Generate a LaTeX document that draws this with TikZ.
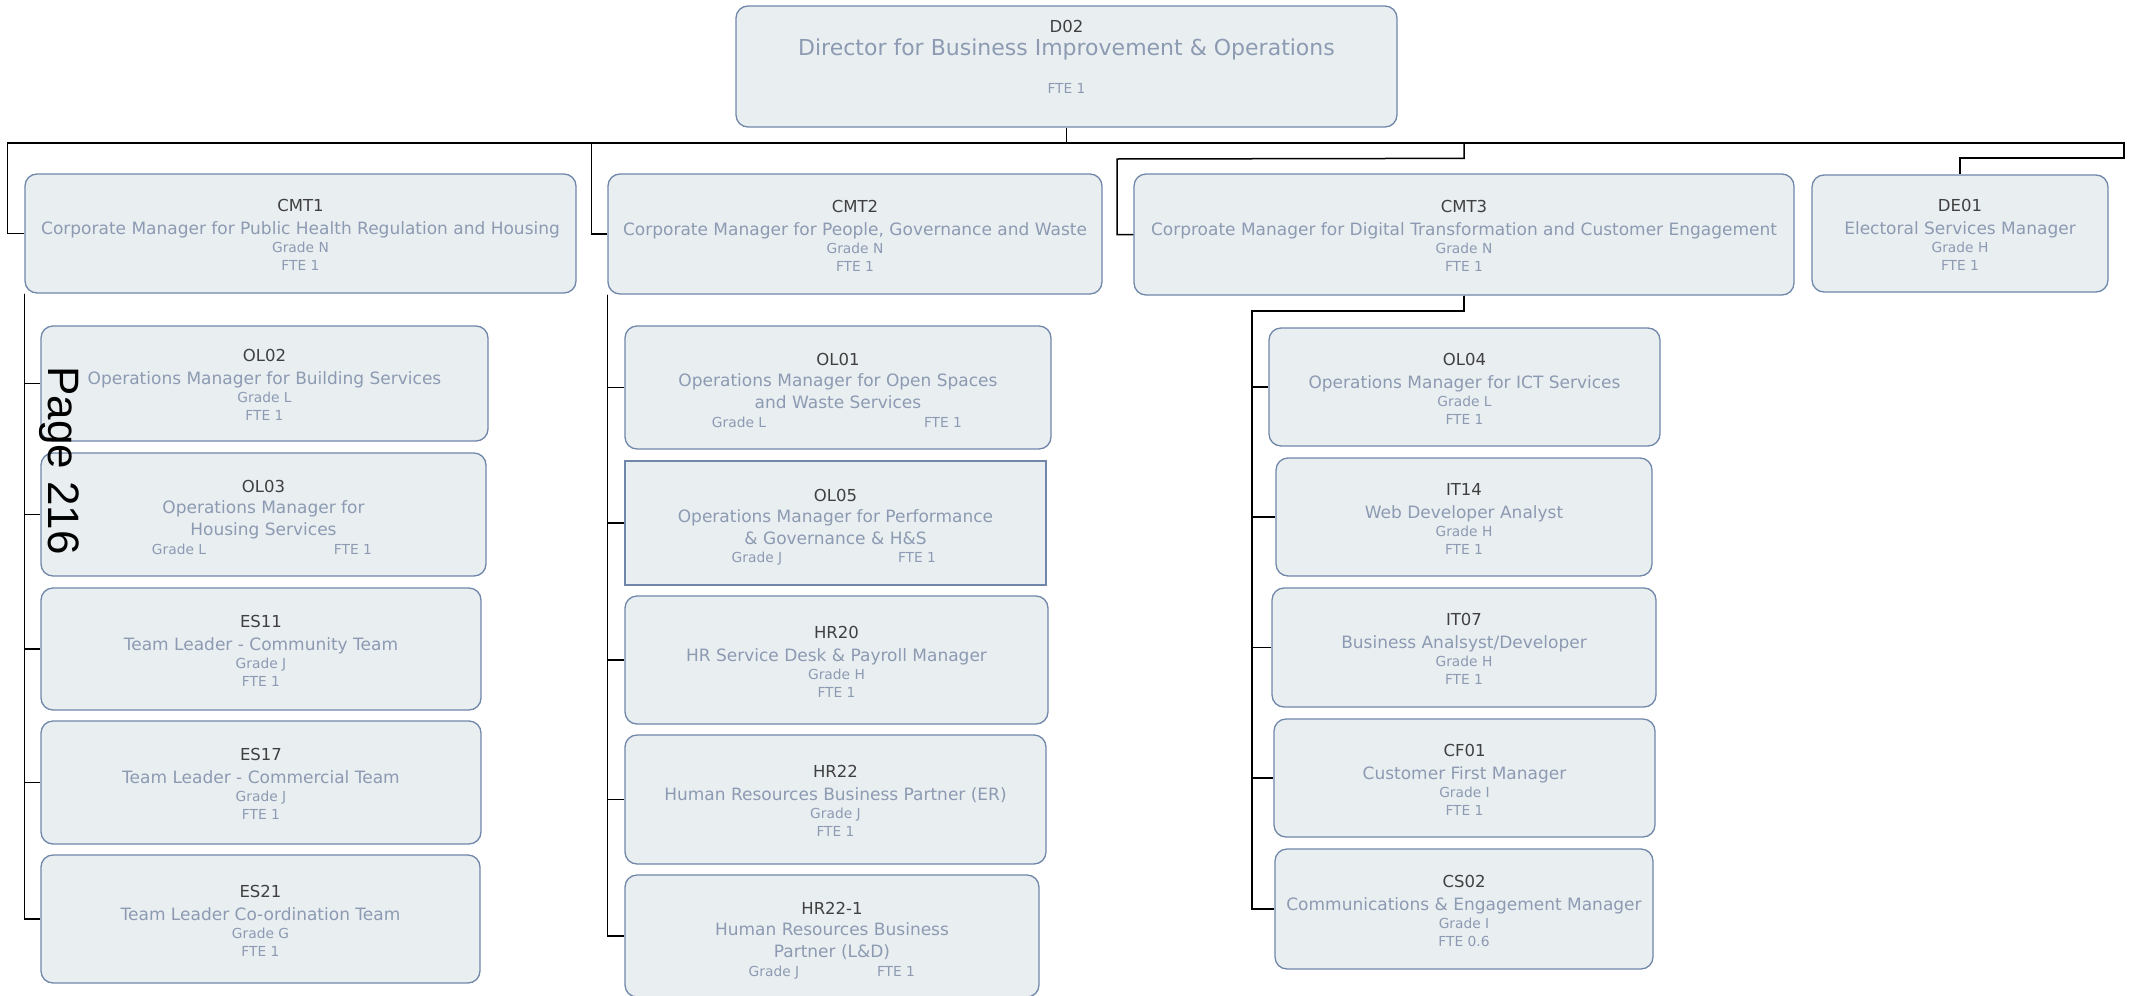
\documentclass[tikz,border=0pt]{standalone}
\usepackage{fontspec}
\setmainfont{DejaVu Sans}
\newfontfamily\pagefont{Liberation Sans}
\usetikzlibrary{calc}

\definecolor{boxfill}{RGB}{233,238,241}
\definecolor{boxline}{RGB}{112,135,170}
\definecolor{idcol}{RGB}{64,64,64}
\definecolor{txtcol}{RGB}{140,154,178}

\tikzset{
  orgbox/.style={draw=boxline, fill=boxfill, line width=1.3pt, rounded corners=12pt, inner sep=0pt},
  idtext/.style={anchor=base, inner sep=0pt, text=idcol, font=\fontsize{16.5pt}{19pt}\selectfont},
  roletext/.style={anchor=base, inner sep=0pt, text=txtcol, font=\fontsize{17pt}{20pt}\selectfont},
  smalltext/.style={anchor=base, inner sep=0pt, text=txtcol, font=\fontsize{13.8pt}{16pt}\selectfont},
  link/.style={draw=black, line width=1.5pt},
}

% box with its post code on top
\newcommand{\orgframe}[6]{%
  \node[orgbox, minimum width=#4pt, minimum height=#5pt] (#1) at (#2,#3) {};
  \node[idtext] (#1-id) at ($(#1.center)+(0,-22)$) {#6};
}
% box with code, role, grade and FTE on four lines
\newcommand{\orgunit}[9]{%
  \orgframe{#1}{#2}{#3}{#4}{#5}{#6}
  \node[roletext] (#1-role) at ($(#1.center)+(0,1)$) {#7};
  \node[smalltext] (#1-grade) at ($(#1.center)+(0,19)$) {#8};
  \node[smalltext] (#1-fte) at ($(#1.center)+(0,37)$) {#9};
}

\begin{document}
\begin{tikzpicture}[x=1pt,y=-1pt]
\useasboundingbox (0,0) rectangle (2134,996);

% ---- director ----
\node[orgbox, minimum width=661pt, minimum height=121pt] (D02) at (1066.5,66.5) {};
\node[idtext] (D02-id) at ($(D02.center)+(0,-34.5)$) {D02};
\node[roletext, font=\fontsize{22pt}{25pt}\selectfont] (D02-role) at ($(D02.center)+(0,-11.5)$) {Director for Business Improvement \& Operations};
\node[smalltext] (D02-fte) at ($(D02.center)+(0,26.5)$) {FTE 1};

% ---- corporate managers ----
\orgunit{CMT1}{300.5}{233.5}{551}{119}{CMT1}{Corporate Manager for Public Health Regulation and Housing}{Grade N}{FTE 1}
\orgunit{CMT2}{855}{234}{494}{120}{CMT2}{Corporate Manager for People, Governance and Waste}{Grade N}{FTE 1}
\orgunit{CMT3}{1464}{234.5}{660}{121}{CMT3}{Corproate Manager for Digital Transformation and Customer Engagement}{Grade N}{FTE 1}
\orgunit{DE01}{1960}{233.5}{296}{117}{DE01}{Electoral Services Manager}{Grade H}{FTE 1}

% ---- public health, regulation and housing ----
\orgunit{OL02}{264.5}{383.5}{447}{115}{OL02}{Operations Manager for Building Services}{Grade L}{FTE 1}
\orgframe{OL03}{263.5}{514.5}{445}{123}{OL03}
\node[roletext] (OL03-role) at ($(OL03.center)+(0,-1.5)$) {Operations Manager for};
\node[roletext] (OL03-role2) at ($(OL03.center)+(0,20.5)$) {Housing Services};
\node[smalltext] (OL03-grade) at ($(OL03.center)+(-84.5,39.5)$) {Grade L};
\node[smalltext] (OL03-fte) at ($(OL03.center)+(89.5,39.5)$) {FTE 1};
\orgunit{ES11}{261}{649}{440}{122}{ES11}{Team Leader - Community Team}{Grade J}{FTE 1}
\orgunit{ES17}{261}{782.5}{440}{123}{ES17}{Team Leader - Commercial Team}{Grade J}{FTE 1}
\orgunit{ES21}{260.5}{919}{439}{128}{ES21}{Team Leader Co-ordination Team}{Grade G}{FTE 1}

% ---- people, governance and waste ----
\orgframe{OL01}{838}{387.5}{426}{123}{OL01}
\node[roletext] (OL01-role) at ($(OL01.center)+(0,-1.5)$) {Operations Manager for Open Spaces};
\node[roletext] (OL01-role2) at ($(OL01.center)+(0,20.5)$) {and Waste Services};
\node[smalltext] (OL01-grade) at ($(OL01.center)+(-99,39.5)$) {Grade L};
\node[smalltext] (OL01-fte) at ($(OL01.center)+(105,39.5)$) {FTE 1};

\node[orgbox, sharp corners, minimum width=421pt, minimum height=124pt] (OL05) at (835.5,523) {};
\node[idtext] (OL05-id) at ($(OL05.center)+(0,-22)$) {OL05};
\node[roletext] (OL05-role) at ($(OL05.center)+(0,-1)$) {Operations Manager for Performance};
\node[roletext] (OL05-role2) at ($(OL05.center)+(0,21)$) {\& Governance \& H\&S};
\node[smalltext] (OL05-grade) at ($(OL05.center)+(-78.5,39)$) {Grade J};
\node[smalltext] (OL05-fte) at ($(OL05.center)+(81.5,39)$) {FTE 1};

\orgunit{HR20}{836.5}{660}{423}{128}{HR20}{HR Service Desk \& Payroll Manager}{Grade H}{FTE 1}
\orgunit{HR22}{835.5}{799.5}{421}{129}{HR22}{Human Resources Business Partner (ER)}{Grade J}{FTE 1}

\orgframe{HR22a}{832}{936}{414}{122}{HR22-1}
\node[roletext] (HR22a-role) at ($(HR22a.center)+(0,-1)$) {Human Resources Business};
\node[roletext] (HR22a-role2) at ($(HR22a.center)+(0,21)$) {Partner (L\&D)};
\node[smalltext] (HR22a-grade) at ($(HR22a.center)+(-58,40)$) {Grade J};
\node[smalltext] (HR22a-fte) at ($(HR22a.center)+(64,40)$) {FTE 1};

% ---- digital transformation and customer engagement ----
\orgunit{OL04}{1464.5}{387}{391}{118}{OL04}{Operations Manager for ICT Services}{Grade L}{FTE 1}
\orgunit{IT14}{1464}{517}{376}{118}{IT14}{Web Developer Analyst}{Grade H}{FTE 1}
\orgunit{IT07}{1464}{647.5}{384}{119}{IT07}{Business Analsyst/Developer}{Grade H}{FTE 1}
\orgunit{CF01}{1464.5}{778}{381}{118}{CF01}{Customer First Manager}{Grade I}{FTE 1}
\orgunit{CS02}{1464}{909}{378}{120}{CS02}{Communications \& Engagement Manager}{Grade I}{FTE 0.6}

% ---- reporting lines ----
\coordinate (bus) at (1066.5,143);
\coordinate (busend) at (2124,158);
\coordinate (cmt3jog) at (1117,159);
\coordinate (cmt3down) at (1252,311);

\draw[link] (D02.south) -- (bus);
\draw[link] (bus) -| ([xshift=-17pt]CMT1.west) -- (CMT1.west);
\draw[link] (bus) -| ([xshift=-16pt]CMT2.west) -- (CMT2.west);
\draw[link] (bus) -| ($(CMT3.north)+(0,-15)$) -- (cmt3jog) |- (CMT3.west);
\draw[link] (bus) -| (busend) -| (DE01.north);

\foreach \c in {OL02,OL03,ES11,ES17,ES21}
  \draw[link] (CMT1.south west) |- (\c.west);
\foreach \c in {OL01,OL05,HR20,HR22,HR22a}
  \draw[link] (CMT2.south west) |- (\c.west);
\foreach \c in {OL04,IT14,IT07,CF01,CS02}
  \draw[link] (CMT3.south) |- (cmt3down) |- (\c.west);

% ---- page number ----
\node[anchor=base west, rotate=-90, inner sep=0pt, text=black,
      font=\pagefont\fontsize{44pt}{50pt}\selectfont] (pagenum) at (48,366) {Page 216};
\end{tikzpicture}
\end{document}
